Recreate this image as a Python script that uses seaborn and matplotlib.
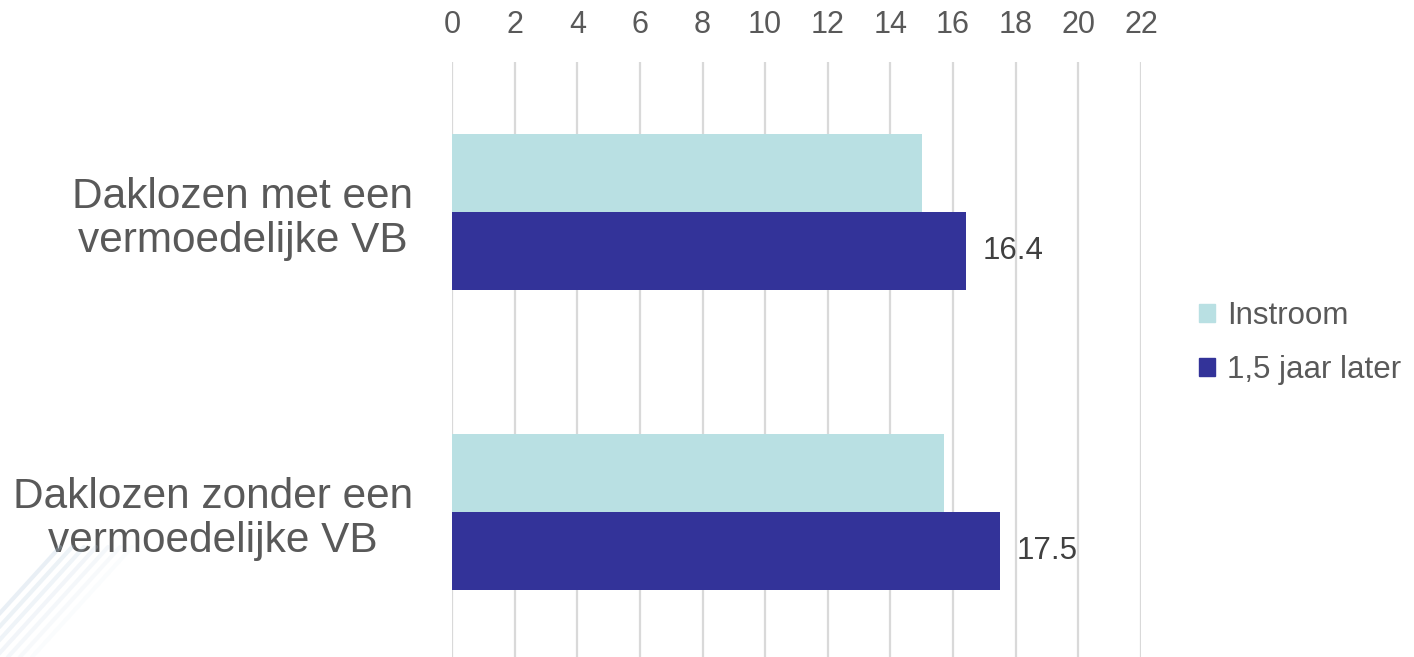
import matplotlib
matplotlib.use("Agg")
import matplotlib.pyplot as plt
from matplotlib.patches import Patch
from matplotlib.lines import Line2D
import pandas as pd
import seaborn as sns

categories = ["Daklozen met een\nvermoedelijke VB", "Daklozen zonder een\nvermoedelijke VB"]
series = ["Instroom", "1,5 jaar later"]
instroom = [15.0, 15.7]
later = [16.4, 17.5]
x_ticks = list(range(0, 23, 2))
colors = ["#B9E0E3", "#333399"]

df = pd.DataFrame({
    "groep": categories * 2,
    "meting": [series[0]] * 2 + [series[1]] * 2,
    "waarde": instroom + later,
})

sns.set_theme(style="white")
plt.rcParams["font.family"] = ["Liberation Sans", "DejaVu Sans"]

W, H = 1414, 657
fig = plt.figure(figsize=(W / 100, H / 100), dpi=100)
ax = fig.add_axes([452 / W, 1 - 662 / H, (1141 - 452) / W, 600 / H])

sns.barplot(data=df, y="groep", x="waarde", hue="meting", order=categories,
            hue_order=series, palette=colors, width=0.52, saturation=1,
            orient="h", ax=ax, legend=False, linewidth=0)

ax.set_xlim(0, 22)
ax.set_ylim(1.5, -0.5)
ax.set_xticks(x_ticks)
ax.set_xlabel("")
ax.set_ylabel("")
ax.xaxis.tick_top()
ax.grid(axis="x", color="#d9d9d9", lw=1.6)
ax.set_axisbelow(True)
for s in ax.spines.values():
    s.set_visible(False)
ax.tick_params(axis="x", length=0, pad=16, labelsize=22, colors="#595959")
ax.tick_params(axis="y", length=0, pad=28, labelsize=30.5, colors="#595959")
for lab in ax.get_yticklabels():
    lab.set_multialignment("center")
    lab.set_linespacing(1.15)

ax.bar_label(ax.containers[1], fmt="%.1f", padding=12, fontsize=22.5, color="#404040")

handles = [Patch(color=c, label=s) for c, s in zip(colors, series)]
fig.legend(handles=handles, loc="center left", bbox_to_anchor=(1171 / W, 1 - 343 / H),
           frameon=False, fontsize=22.5, handlelength=0.5, handleheight=0.5,
           handletextpad=0.4, labelspacing=0.75, labelcolor="#595959")

# faint decorative stripes in the lower left corner
for i, a in enumerate([0.3, 0.26, 0.22, 0.18, 0.14, 0.1, 0.06]):
    x0 = -40 + i * 12
    fig.add_artist(Line2D([x0 / W, (x0 + 100) / W], [0, 110 / H],
                          transform=fig.transFigure, color="#b8cde0", lw=3, alpha=a))

fig.savefig("out.png", dpi=100)
